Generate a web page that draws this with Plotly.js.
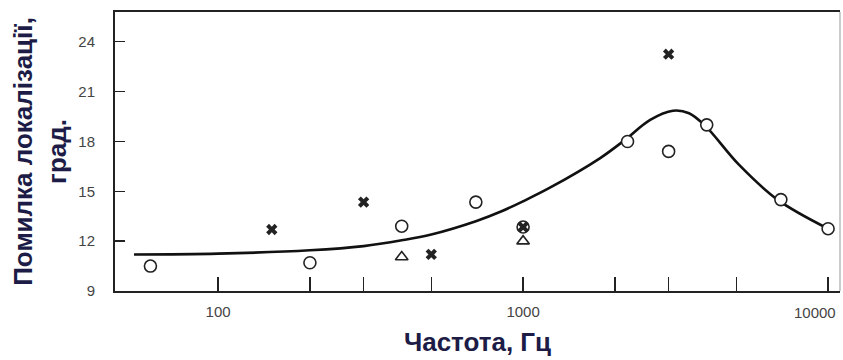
<!DOCTYPE html>
<html>
<head>
<meta charset="utf-8">
<script src="https://cdn.plot.ly/plotly-3.0.1.min.js"></script>
<style>html,body{margin:0;padding:0;background:#fff;}#chart{width:843px;height:360px;}</style>
</head>
<body>
<div id="chart"></div>
<script>
// Fitted curve (frequency, Hz -> localisation error, degrees)
var curveFreq = [53, 100, 200, 300, 400, 500, 700, 850, 1000, 1220, 1790, 2160, 2610, 3100, 3500, 3950, 5100, 6820, 10000];
var curveErr  = [11.2, 11.25, 11.45, 11.7, 12.05, 12.4, 13.2, 13.8, 14.4, 15.2, 17.0, 18.1, 19.3, 19.85, 19.7, 18.95, 16.6, 14.5, 12.75];

// Open circles
var circleFreq = [60, 200, 400, 700, 1000, 2200, 3000, 4000, 7000, 10000];
var circleErr  = [10.5, 10.7, 12.9, 14.35, 12.85, 18.0, 17.4, 19.0, 14.5, 12.75];

// Crosses
var crossFreq = [150, 300, 500, 1000, 3000];
var crossErr  = [12.7, 14.35, 11.2, 12.85, 23.25];

// Open triangles
var triFreq = [400, 1000];
var triErr  = [11.05, 12.0];

// Axis ticks
var xTickVals = [100, 200, 300, 500, 1000, 2000, 3000, 5000, 10000];
var xTickText = ['100', '', '', '', '1000', '', '', '', ''];
var lastTickText = '10000';
var lastTickVal = 10000;
var yTickVals = [9, 12, 15, 18, 21, 24];

var xTitle = 'Частота, Гц';
var yTitle = 'Помилка локалізації,<br>град.';

var traces = [
  {x: curveFreq, y: curveErr, type: 'scatter', mode: 'lines',
   line: {color: '#111', width: 2.6, shape: 'spline', smoothing: 1}, hoverinfo: 'skip'},
  {x: circleFreq, y: circleErr, type: 'scatter', mode: 'markers',
   marker: {symbol: 'circle', size: 12, color: '#fff', line: {color: '#222', width: 1.6}}},
  {x: crossFreq, y: crossErr, type: 'scatter', mode: 'markers',
   marker: {symbol: 'x', size: 10, color: '#222', line: {width: 0}}},
  {x: triFreq, y: triErr, type: 'scatter', mode: 'markers',
   marker: {symbol: 'triangle-up-open', size: 11, color: '#222', line: {width: 1.6}}}
];

var titleFont = {size: 26, color: '#1c1c46', family: 'Liberation Sans, Arial, sans-serif', weight: 'bold'};

var layout = {
  width: 843, height: 360,
  margin: {l: 115, r: 3, t: 12, b: 69},
  paper_bgcolor: '#fff', plot_bgcolor: '#fff',
  showlegend: false,
  font: {family: 'Liberation Sans, Arial, sans-serif', color: '#444', size: 15},
  xaxis: {
    type: 'log', range: [1.662, 4.039],
    tickvals: xTickVals, ticktext: xTickText,
    ticks: 'inside', ticklen: 14, tickwidth: 1.5, tickcolor: '#222',
    showline: true, linewidth: 2, linecolor: '#222', mirror: true,
    showgrid: false, zeroline: false,
    ticklabelstandoff: 6,
    tickfont: {size: 15, color: '#444'},
    title: {text: xTitle, font: titleFont, standoff: 14}
  },
  yaxis: {
    range: [9, 25.79],
    tickvals: yTickVals,
    ticks: 'inside', ticklen: 10, tickwidth: 1.5, tickcolor: '#222',
    showline: true, linewidth: 2, linecolor: '#222', mirror: false,
    showgrid: false, zeroline: false,
    tickfont: {size: 15, color: '#444'},
    ticklabelstandoff: 15,
    title: {text: yTitle, font: titleFont, standoff: 4}
  },
  annotations: [
    {text: lastTickText, x: Math.log10(lastTickVal), xref: 'x', y: 0, yref: 'paper',
     xanchor: 'right', yanchor: 'top', xshift: 10, yshift: -11, showarrow: false,
     font: {size: 15, color: '#444'}}
  ],
  shapes: [
    {type: 'line', xref: 'paper', yref: 'paper', x0: 1, x1: 1, y0: 0, y1: 1,
     line: {color: '#999', width: 1}}
  ]
};

Plotly.newPlot('chart', traces, layout, {displayModeBar: false, staticPlot: true});
</script>
</body>
</html>
